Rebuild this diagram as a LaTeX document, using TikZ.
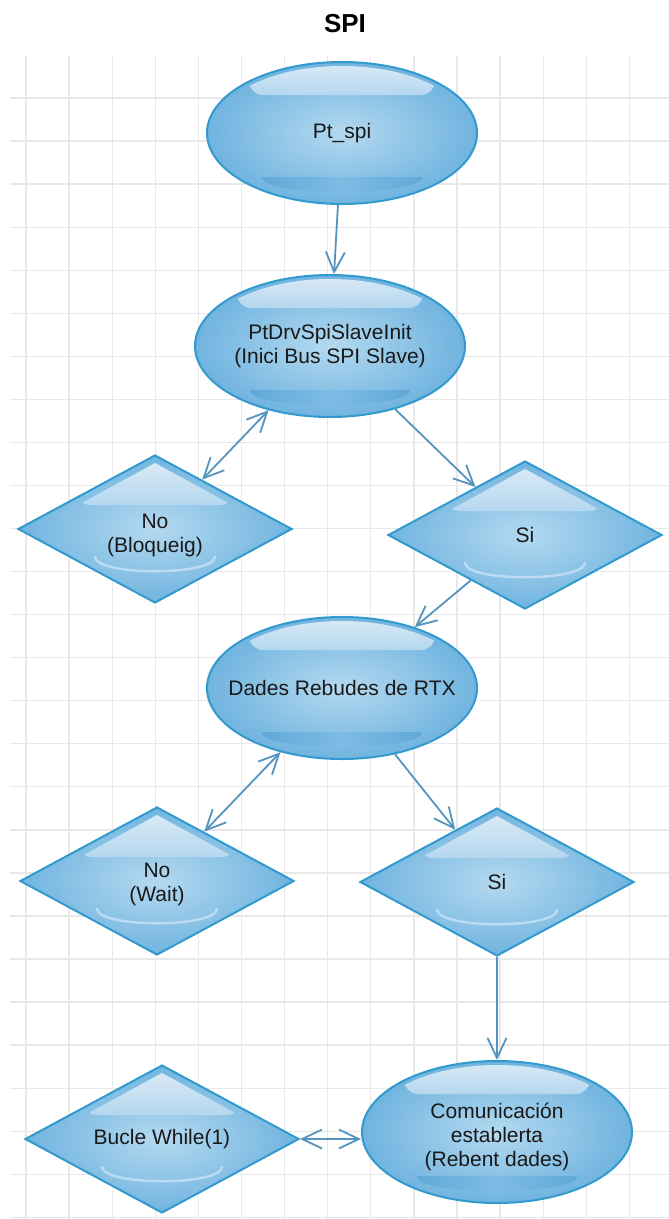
\documentclass[tikz,border=0pt]{standalone}
\usepackage{fontspec}
\setmainfont{Liberation Sans}
\usetikzlibrary{shapes.geometric,arrows.meta,calc}

\definecolor{gridgray}{RGB}{232,232,232}
\definecolor{shapeedge}{RGB}{50,154,206}
\definecolor{fillin}{RGB}{180,217,240}
\definecolor{fillout}{RGB}{112,180,223}
\definecolor{glowtop}{RGB}{224,237,247}
\definecolor{glowbot}{RGB}{180,215,239}
\definecolor{banddark}{RGB}{96,168,216}
\definecolor{bandmid}{RGB}{126,188,228}
\definecolor{smilecol}{RGB}{186,219,241}
\definecolor{linkblue}{RGB}{84,148,190}
\definecolor{inktext}{RGB}{25,25,25}

\tikzset{
  gridline/.style={draw=gridgray, line width=1.3pt},
  bubble/.style={ellipse, draw=shapeedge, line width=2pt,
    inner color=fillin, outer color=fillout,
    minimum width=270pt, minimum height=142pt, inner sep=0pt,
    align=center, text=inktext, font=\fontsize{21}{24}\selectfont},
  kite/.style={diamond, draw=shapeedge, line width=2pt,
    inner color=fillin, outer color=fillout,
    minimum width=274pt, minimum height=148pt, inner sep=0pt,
    align=center, text=inktext, font=\fontsize{21}{24}\selectfont},
  link/.style={draw=linkblue, line width=1.8pt,
    -{Straight Barb[length=20pt,width=19pt]}},
  twolink/.style={draw=linkblue, line width=1.8pt,
    {Straight Barb[length=20pt,width=19pt]}-{Straight Barb[length=20pt,width=19pt]}}
}

% glossy top highlight and darker lower band of an ellipse node
\newcommand\bubbleshine[1]{%
  \begin{scope}[shift={(#1.center)}, x=1pt, y=1pt]
    \begin{scope}
      \clip (0,0) ellipse [x radius=130, y radius=67];
      \shade[top color=glowtop, bottom color=glowbot, rounded corners=14pt]
        (-93,38) rectangle (93,75);
    \end{scope}
    \shade[left color=banddark, right color=banddark, middle color=bandmid]
      (-80,-44) -- (80,-44) .. controls (82,-64) and (-82,-64) .. (-80,-44) -- cycle;
  \end{scope}}

% glossy top highlight and lower arc of a diamond node
\newcommand\kiteshine[1]{%
  \begin{scope}[shift={(#1.center)}, x=1pt, y=1pt]
    \begin{scope}
      \clip (0,66) -- (121,0) -- (0,-66) -- (-121,0) -- cycle;
      \shade[top color=glowtop, bottom color=glowbot, rounded corners=10pt]
        (-76,24) rectangle (76,74);
    \end{scope}
    \draw[smilecol, line width=2.5pt, line cap=round]
      (-60,-28) .. controls (-58,-47) and (58,-47) .. (60,-28);
  \end{scope}}

\begin{document}
\begin{tikzpicture}[x=1pt, y=-1pt]
  \useasboundingbox (0,0) rectangle (669,1219);
  \fill[white] (0,0) rectangle (669,1219);

  % background grid
  \foreach \k in {0,...,14}
    \draw[gridline] ({26+43.1*\k},56) -- ({26+43.1*\k},1219);
  \foreach \k in {0,...,26}
    \draw[gridline] (10,{98+43.05*\k}) -- (669,{98+43.05*\k});

  % title
  \node[font=\fontsize{26}{30}\selectfont\bfseries, text=black] (title) at (345,24) {SPI};

  % flow nodes (shapes first, then their gloss, then the labels on top)
  \node[bubble] (spi) at (342,133) {};
  \node[bubble] (drv) at (330,346) {};
  \node[kite] (noa) at (155,529) {};
  \node[kite] (sia) at (525,535) {};
  \node[bubble] (rtx) at (342,688) {};
  \node[kite] (nob) at (157,881) {};
  \node[kite] (sib) at (497,882) {};
  \node[bubble] (com) at (497,1132) {};
  \node[kite] (loop) at (162,1139) {};

  \bubbleshine{spi}
  \bubbleshine{drv}
  \bubbleshine{rtx}
  \bubbleshine{com}
  \kiteshine{noa}
  \kiteshine{sia}
  \kiteshine{nob}
  \kiteshine{sib}
  \kiteshine{loop}

  \begin{scope}[every node/.style={align=center, text=inktext, font=\fontsize{21}{24}\selectfont}]
    \node (spitext) at (spi) {Pt\_spi};
    \node (drvtext) at (drv) {PtDrvSpiSlaveInit\\(Inici Bus SPI Slave)};
    \node (noatext) at ([yshift=-6pt]noa.center) {No\\(Bloqueig)};
    \node (siatext) at (sia) {Si};
    \node (rtxtext) at (rtx) {Dades Rebudes de RTX};
    \node (nobtext) at ([yshift=-3pt]nob.center) {No\\(Wait)};
    \node (sibtext) at (sib) {Si};
    \node (comtext) at ([yshift=-5pt]com.center) {Comunicación\\establerta\\(Rebent dades)};
    \node (looptext) at (loop) {Bucle While(1)};
  \end{scope}

  % connectors
  \draw[link] (spi) -- (drv);
  \draw[twolink] (drv) -- (noa);
  \draw[link] (drv) -- (sia);
  \draw[link] (sia) -- (rtx);
  \draw[twolink] (rtx) -- (nob);
  \draw[link] (rtx) -- (sib);
  \draw[link] (sib) -- (com);
  \draw[twolink] (loop.east) -- (loop.east -| com.west);
\end{tikzpicture}
\end{document}
